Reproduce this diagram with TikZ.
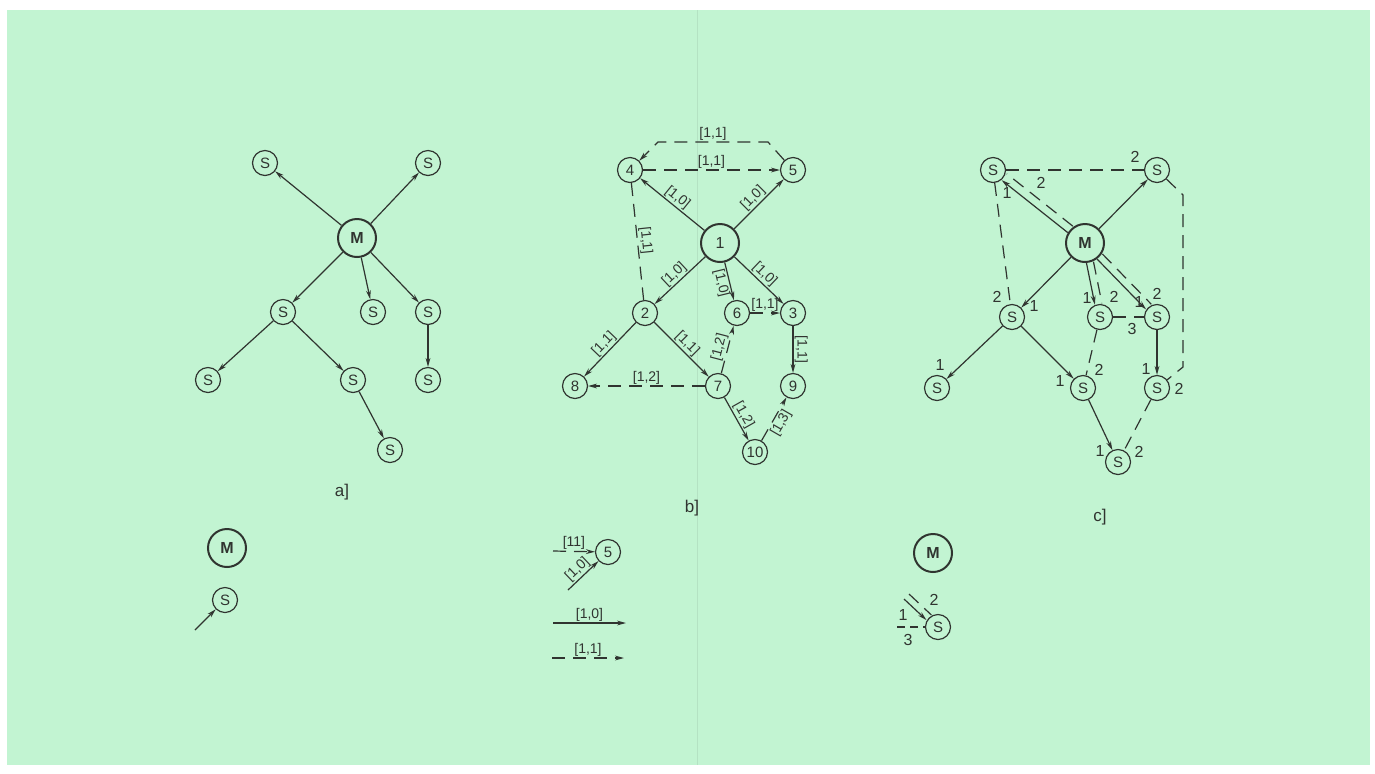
\documentclass[tikz,border=0pt]{standalone}
\usepackage{fontspec}
\setmainfont{Liberation Sans}
\usetikzlibrary{arrows.meta,calc}
\definecolor{bg}{RGB}{194,244,210}
\definecolor{ink}{RGB}{48,52,48}
\begin{document}
\begin{tikzpicture}[x=0.5pt,y=-0.5pt,
 every node/.style={font=\fontsize{7.5}{9}\selectfont, text=ink},
 snode/.style={circle,draw=ink,line width=0.6pt,minimum size=12.5pt,inner sep=0pt},
 bnode/.style={circle,draw=ink,line width=1pt,minimum size=19pt,inner sep=0pt,font=\fontsize{8}{9}\selectfont\bfseries},
 conn/.style={draw=ink,line width=0.6pt},
 arr/.style={conn,-{Stealth[length=4.5pt,width=2.4pt]}},
 dsh/.style={dash pattern=on 6.5pt off 4pt},
 lab/.style={inner sep=0.6pt,font=\fontsize{7}{8}\selectfont},
 num/.style={inner sep=0pt,font=\fontsize{8}{9}\selectfont},
 captxt/.style={font=\fontsize{8.5}{10}\selectfont},
]
\useasboundingbox (0,0) rectangle (1375,773);
\fill[white] (0,0) rectangle (1375,773);
\fill[bg] (7,10) rectangle (1370,765);
\draw[bg!80!black,line width=0.3pt,opacity=0.35] (697,10) -- (697,765);

% ---------- panel a ----------
\node[bnode] (aM) at (357,238) {M};
\node[snode] (aTL) at (265,163) {S};
\node[snode] (aTR) at (428,163) {S};
\node[snode] (aML) at (283,312) {S};
\node[snode] (aMM) at (373,312) {S};
\node[snode] (aMR) at (428,312) {S};
\node[snode] (aBL) at (208,380) {S};
\node[snode] (aBM) at (353,380) {S};
\node[snode] (aBR) at (428,380) {S};
\node[snode] (aLo) at (390,450) {S};
\draw[arr] (aM) -- (aTL);
\draw[arr] (aM) -- (aTR);
\draw[arr] (aM) -- (aML);
\draw[arr] (aM) -- (aMM);
\draw[arr] (aM) -- (aMR);
\draw[arr] (aML) -- (aBL);
\draw[arr] (aML) -- (aBM);
\draw[arr] (aMR) -- (aBR);
\draw[arr] (aBM) -- (aLo);
\node[captxt] (capa) at (342,492) {a]};

% legend a
\node[bnode] (laM) at (227,548) {M};
\node[snode] (laS) at (225,600) {S};
\coordinate (laT) at (195,630);
\draw[arr] (laT) -- (laS);

% ---------- panel b ----------
\node[snode] (b4) at (630,170) {4};
\node[snode] (b5) at (793,170) {5};
\node[bnode,font=\fontsize{8}{9}\selectfont] (b1) at (720,243) {1};
\node[snode] (b2) at (645,313) {2};
\node[snode] (b6) at (737,313) {6};
\node[snode] (b3) at (793,313) {3};
\node[snode] (b8) at (575,386) {8};
\node[snode] (b7) at (718,386) {7};
\node[snode] (b9) at (793,386) {9};
\node[snode] (b10) at (755,452) {10};
\coordinate (bk1) at (768,142);
\coordinate (bk2) at (658,142);
\draw[arr,dsh] (b5) -- (bk1) -- node[lab,above] {[1,1]} (bk2) -- (b4);
\draw[arr,dsh] (b4) -- node[lab,above] {[1,1]} (b5);
\draw[arr] (b1) -- node[lab,sloped,above] {[1,0]} (b4);
\draw[arr] (b1) -- node[lab,sloped,above] {[1,0]} (b5);
\draw[conn,dsh] (b4) -- node[lab,sloped,above] {[1,1]} (b2);
\draw[arr] (b1) -- node[lab,sloped,above] {[1,0]} (b2);
\draw[arr] (b1) -- node[lab,sloped,below] {[1,0]} (b6);
\draw[arr] (b1) -- node[lab,sloped,above] {[1,0]} (b3);
\draw[arr,dsh] (b6) -- node[lab,above] {[1,1]} (b3);
\draw[arr] (b2) -- node[lab,sloped,above] {[1,1]} (b8);
\draw[arr] (b2) -- node[lab,sloped,above] {[1,1]} (b7);
\draw[arr,dsh] (b7) -- node[lab,sloped,above] {[1,2]} (b6);
\draw[arr,dsh] (b7) -- node[lab,above] {[1,2]} (b8);
\draw[arr] (b3) -- node[lab,rotate=-90,anchor=south] {[1,1]} (b9);
\draw[arr] (b7) -- node[lab,sloped,above] {[1,2]} (b10);
\draw[arr,dsh] (b10) -- node[lab,sloped,below] {[1,3]} (b9);
\node[captxt] (capb) at (692,508) {b]};

% legend b
\node[snode] (lb5) at (608,552) {5};
\coordinate (lb1) at (553,551);
\draw[arr,dsh] (lb1) -- node[lab,above] {[11]} (lb5);
\coordinate (lb2) at (568,590);
\draw[arr] (lb2) -- node[lab,sloped,above] {[1,0]} (lb5);
\coordinate (lb3a) at (553,623);
\coordinate (lb3b) at (626,623);
\draw[arr] (lb3a) -- node[lab,above] {[1,0]} (lb3b);
\coordinate (lb4a) at (552,658);
\coordinate (lb4b) at (624,658);
\draw[arr,dsh] (lb4a) -- node[lab,above] {[1,1]} (lb4b);

% ---------- panel c ----------
\node[bnode] (cM) at (1085,243) {M};
\node[snode] (cTL) at (993,170) {S};
\node[snode] (cTR) at (1157,170) {S};
\node[snode] (cML) at (1012,317) {S};
\node[snode] (cMM) at (1100,317) {S};
\node[snode] (cMR) at (1157,317) {S};
\node[snode] (cBL) at (937,388) {S};
\node[snode] (cBM) at (1083,388) {S};
\node[snode] (cBR) at (1157,388) {S};
\node[snode] (cLo) at (1118,462) {S};
% double links
\draw[arr,transform canvas={shift={(-1.6,2)}}] (cM) -- (cTL);
\draw[conn,dsh,transform canvas={shift={(3.5,-4.4)}}] (cM) -- (cTL);
\draw[arr,transform canvas={shift={(-2.5,0.5)}}] (cM) -- (cMM);
\draw[conn,dsh,transform canvas={shift={(4.5,-0.9)}}] (cM) -- (cMM);
\draw[arr,transform canvas={shift={(-1.8,1.8)}}] (cM) -- (cMR);
\draw[conn,dsh,transform canvas={shift={(3.4,-3.4)}}] (cM) -- (cMR);
% single links
\draw[arr] (cM) -- (cTR);
\draw[arr] (cM) -- (cML);
\draw[arr] (cML) -- (cBL);
\draw[arr] (cML) -- (cBM);
\draw[arr] (cMR) -- (cBR);
\draw[arr] (cBM) -- (cLo);
% dashed links
\draw[conn,dsh] (cTL) -- (cTR);
\draw[conn,dsh] (cTL) -- (cML);
\coordinate (ck1) at (1183,195);
\coordinate (ck2) at (1183,367);
\draw[conn,dsh] (cTR) -- (ck1) -- (ck2) -- (cBR);
\draw[conn,dsh] (cMM) -- (cMR);
\draw[conn,dsh] (cMM) -- (cBM);
\draw[conn,dsh] (cBR) -- (cLo);
% numbers
\node[num] at (1007,193) {1};
\node[num] at (1041,183) {2};
\node[num] at (1135,157) {2};
\node[num] at (997,297) {2};
\node[num] at (1034,306) {1};
\node[num] at (1087,298) {1};
\node[num] at (1114,297) {2};
\node[num] at (1139,302) {1};
\node[num] at (1157,294) {2};
\node[num] at (1132,329) {3};
\node[num] at (940,365) {1};
\node[num] at (1060,381) {1};
\node[num] at (1099,370) {2};
\node[num] at (1146,369) {1};
\node[num] at (1179,389) {2};
\node[num] at (1100,451) {1};
\node[num] at (1139,452) {2};
\node[captxt] (capc) at (1100,517) {c]};

% legend c
\node[bnode] (lcM) at (933,553) {M};
\node[snode] (lcS) at (938,627) {S};
\coordinate (lc1) at (906,597);
\draw[arr,transform canvas={shift={(-2,2)}}] (lc1) -- (lcS);
\draw[conn,dsh,transform canvas={shift={(3,-3)}}] (lc1) -- (lcS);
\coordinate (lc2) at (897,627);
\draw[conn,dash pattern=on 4pt off 2.5pt] (lc2) -- (lcS);
\node[num] at (934,600) {2};
\node[num] at (903,615) {1};
\node[num] at (908,640) {3};
\end{tikzpicture}
\end{document}
